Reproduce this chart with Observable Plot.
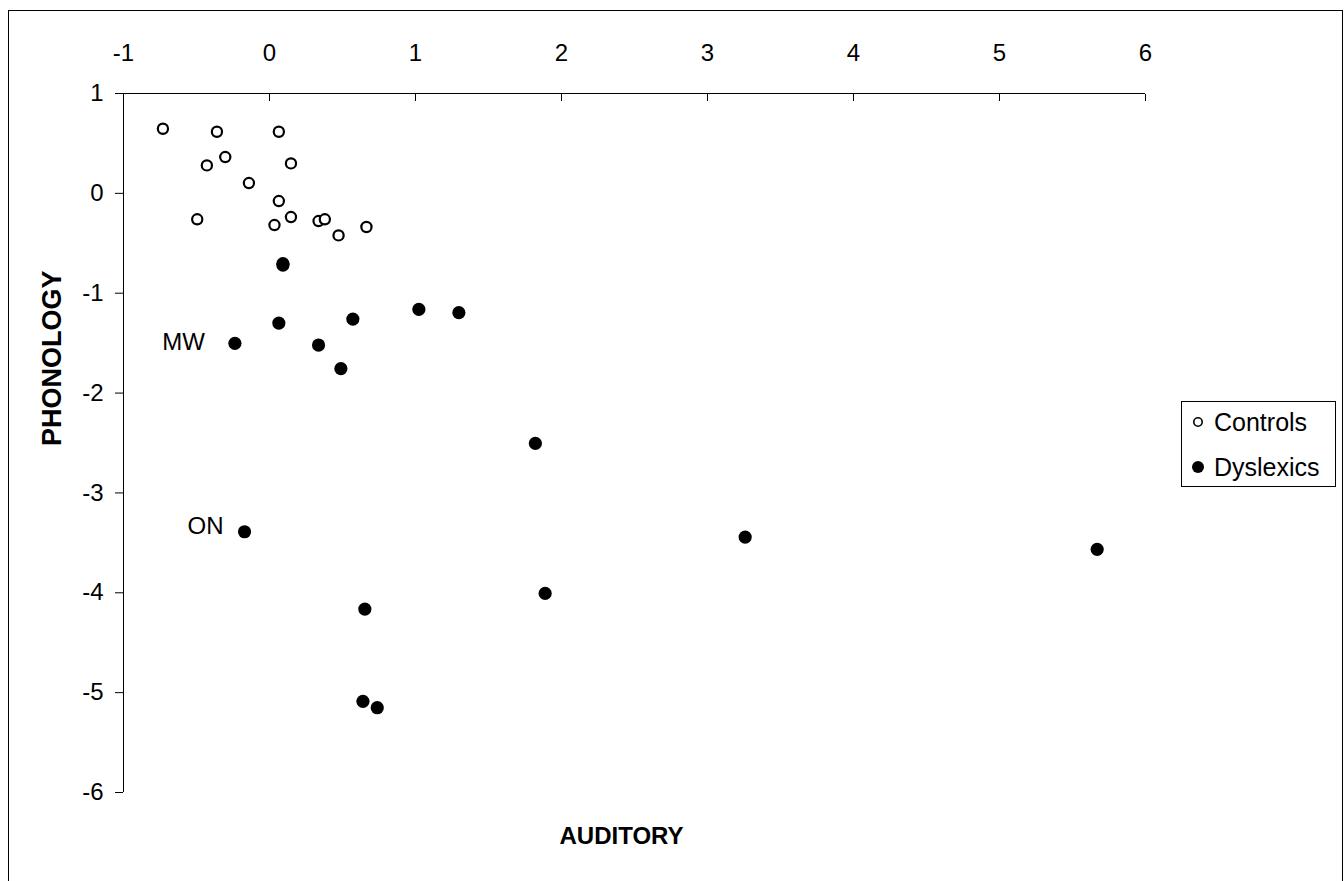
<!DOCTYPE html>
<html>
<head>
<meta charset="utf-8">
<script src="https://cdn.jsdelivr.net/npm/d3@7"></script>
<script src="https://cdn.jsdelivr.net/npm/@observablehq/plot@0.6"></script>
<style>
  html, body { margin: 0; padding: 0; background: #fff; overflow: hidden; }
  #wrap { position: relative; width: 1344px; height: 881px; }
  #frame { position: absolute; left: 8px; top: 10px; width: 1335px; height: 900px; border: 1px solid #000; box-sizing: border-box; }
  #chart { position: absolute; left: 0; top: 0; }
  #legend { position: absolute; left: 1181px; top: 401px; width: 155px; height: 86px; border: 1px solid #000; box-sizing: border-box; background: #fff; }
</style>
</head>
<body>
<div id="wrap">
  <div id="frame"></div>
  <div id="chart"></div>
  <div id="legend"></div>
</div>
<script>
// ---- data ----
const seriesNames = ["Controls", "Dyslexics"];
const xTitle = "AUDITORY";
const yTitle = "PHONOLOGY";
const xTicks = [-1, 0, 1, 2, 3, 4, 5, 6];
const yTicks = [1, 0, -1, -2, -3, -4, -5, -6];

const controlsX = [-0.730, -0.360, 0.064, -0.303, -0.429, 0.147, -0.141, 0.064, -0.495, 0.034, 0.147, 0.336, 0.379, 0.473, 0.664];
const controlsY = [0.647, 0.617, 0.617, 0.364, 0.280, 0.300, 0.103, -0.077, -0.260, -0.317, -0.237, -0.277, -0.260, -0.421, -0.337];

const dyslexicsX = [0.092, 0.092, -0.237, 0.064, 0.336, 0.571, 0.489, 1.023, 1.297, 1.821, -0.171, 1.888, 0.653, 0.640, 0.738, 3.258, 5.669];
const dyslexicsY = [-0.704, -0.718, -1.502, -1.299, -1.519, -1.259, -1.756, -1.162, -1.195, -2.504, -3.389, -4.006, -4.163, -5.087, -5.151, -3.442, -3.565];
const dyslexicsLabel = ["", "", "MW", "", "", "", "", "", "", "", "ON", "", "", "", "", "", ""];

// ---- tables built from the arrays ----
const controls = controlsX.map((x, i) => ({x, y: controlsY[i]}));
const dyslexics = dyslexicsX.map((x, i) => ({x, y: dyslexicsY[i], label: dyslexicsLabel[i]}));

const FONT = "'Liberation Sans', Arial, Helvetica, sans-serif";

const chart = Plot.plot({
  width: 1344,
  height: 881,
  marginLeft: 123,
  marginRight: 199,
  marginTop: 93,
  marginBottom: 89,
  style: {fontFamily: FONT, fontSize: "24px", background: "transparent", color: "#000", overflow: "visible"},
  x: {domain: [-1, 6], axis: null},
  y: {domain: [-6, 1], axis: null},
  marks: [
    Plot.ruleY([1], {stroke: "#000", strokeWidth: 1}),
    Plot.ruleX([-1], {stroke: "#000", strokeWidth: 1}),
    // x ticks pointing into the plot
    Plot.axisX({anchor: "top", ticks: xTicks, tickSize: 7, dy: 7, text: null, label: null, stroke: "#000"}),
    // x tick labels above
    Plot.axisX({anchor: "top", ticks: xTicks, tickSize: 0, tickPadding: 33, tickFormat: d => String(d), label: null, fontSize: 24, fill: "#000"}),
    Plot.axisY({anchor: "left", ticks: yTicks, tickSize: 8, tickPadding: 12, tickFormat: d => String(d), label: null, fontSize: 24, fill: "#000", stroke: "#000"}),
    Plot.dot(controls, {x: "x", y: "y", r: 5.1, stroke: "#000", strokeWidth: 2.2, fill: "#fff"}),
    Plot.dot(dyslexics, {x: "x", y: "y", r: 6.6, fill: "#000", stroke: null}),
    Plot.text(dyslexics.filter(d => d.label === "MW"), {x: "x", y: "y", text: "label", textAnchor: "end", dx: -30, dy: -1, fontSize: 24, fill: "#000"}),
    Plot.text(dyslexics.filter(d => d.label === "ON"), {x: "x", y: "y", text: "label", textAnchor: "end", dx: -21, dy: -5, fontSize: 24, fill: "#000"}),
    Plot.text([xTitle], {frameAnchor: "bottom", text: d => d, dx: -13, dy: 44, fontSize: 24, fontWeight: "bold", fill: "#000", lineAnchor: "middle"}),
    Plot.text([yTitle], {frameAnchor: "left", text: d => d, rotate: -90, dx: -71, dy: 3, fontSize: 27, fontWeight: "bold", fill: "#000", lineAnchor: "middle"})
  ]
});
document.getElementById("chart").appendChild(chart);

// ---- legend ----
const lg = d3.select("#legend").append("svg")
  .attr("width", 153).attr("height", 84)
  .style("font-family", FONT).style("font-size", "25px");
const rows = lg.selectAll("g").data(seriesNames).join("g")
  .attr("transform", (d, i) => `translate(0, ${i === 0 ? 20 : 65})`);
rows.append("circle")
  .attr("cx", 16).attr("cy", 0)
  .attr("r", (d, i) => i === 0 ? 4.2 : 6)
  .attr("fill", (d, i) => i === 0 ? "#fff" : "#000")
  .attr("stroke", "#000")
  .attr("stroke-width", (d, i) => i === 0 ? 1.6 : 0);
rows.append("text")
  .attr("x", 32).attr("y", 9)
  .attr("fill", "#000")
  .text(d => d);
</script>
</body>
</html>
